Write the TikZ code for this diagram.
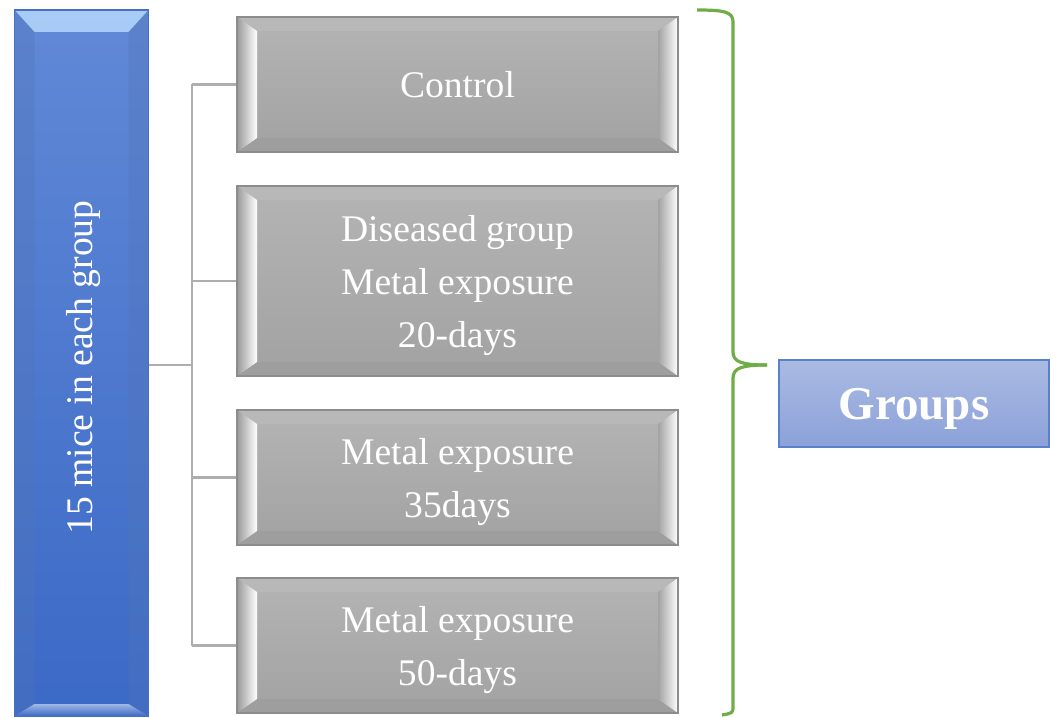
\documentclass[tikz,border=0pt]{standalone}
\usepackage{fontspec}
\setmainfont{Liberation Serif}
\usetikzlibrary{calc}

\definecolor{boxedge}{HTML}{8C8C8C}
\definecolor{boxtop}{HTML}{B4B4B4}
\definecolor{boxbot}{HTML}{A2A2A2}
\definecolor{bevlight}{HTML}{B8B8B8}
\definecolor{bevdark}{HTML}{9E9E9E}
\definecolor{bevside}{HTML}{9A9A9A}
\definecolor{bartop}{HTML}{6189D7}
\definecolor{barbot}{HTML}{3B69C6}
\definecolor{baredge}{HTML}{4670C0}
\definecolor{barhigh}{HTML}{A9CCF7}
\definecolor{grptop}{HTML}{AABAE2}
\definecolor{grpbot}{HTML}{8BA1D9}
\definecolor{grpedge}{HTML}{5A80CC}
\definecolor{linkgray}{HTML}{AEAEAE}
\definecolor{bracegreen}{HTML}{70AD47}

\begin{document}
\begin{tikzpicture}[x=0.5pt,y=-0.5pt,
		boxfont/.style = {font=\fontsize{18.8}{26.5}\selectfont},
		graybox/.style = {draw=boxedge,line width=0.6pt,top color=boxtop,bottom color=boxbot,
			minimum width=220.5pt,inner sep=0pt,text depth=0pt,align=center,text=white,boxfont,
			path picture={
				\fill[bevlight] (path picture bounding box.north west) -- (path picture bounding box.north east)
					-- ([xshift=-10pt,yshift=-7pt]path picture bounding box.north east) -- ([xshift=10pt,yshift=-7pt]path picture bounding box.north west) -- cycle;
				\fill[bevdark] (path picture bounding box.south west) -- (path picture bounding box.south east)
					-- ([xshift=-10pt,yshift=7pt]path picture bounding box.south east) -- ([xshift=10pt,yshift=7pt]path picture bounding box.south west) -- cycle;
				\shade[left color=bevside,middle color=bevside!70!white,right color=white] (path picture bounding box.north west) -- ([xshift=10pt,yshift=-7pt]path picture bounding box.north west)
					-- ([xshift=10pt,yshift=7pt]path picture bounding box.south west) -- (path picture bounding box.south west) -- cycle;
				\shade[left color=boxbot,right color=white] (path picture bounding box.north east) -- ([xshift=-10pt,yshift=-7pt]path picture bounding box.north east)
					-- ([xshift=-10pt,yshift=7pt]path picture bounding box.south east) -- (path picture bounding box.south east) -- cycle;
			}},
		bluebar/.style = {draw=baredge,line width=0.6pt,top color=bartop,bottom color=barbot,
			minimum width=67pt,minimum height=353pt,inner sep=0pt,
			path picture={
				\shade[top color=barhigh,bottom color=bartop!95!white] (path picture bounding box.north west) -- (path picture bounding box.north east)
					-- ([xshift=-10pt,yshift=-11pt]path picture bounding box.north east) -- ([xshift=10pt,yshift=-11pt]path picture bounding box.north west) -- cycle;
				\fill[bartop!85!black,opacity=0.35] (path picture bounding box.north west) -- ([xshift=10pt,yshift=-11pt]path picture bounding box.north west)
					-- ([xshift=10pt,yshift=6pt]path picture bounding box.south west) -- (path picture bounding box.south west) -- cycle;
				\fill[bartop!85!black,opacity=0.35] (path picture bounding box.north east) -- ([xshift=-10pt,yshift=-11pt]path picture bounding box.north east)
					-- ([xshift=-10pt,yshift=6pt]path picture bounding box.south east) -- (path picture bounding box.south east) -- cycle;
				\shade[top color=bartop!60!white,bottom color=barbot] (path picture bounding box.south west) -- (path picture bounding box.south east)
					-- ([xshift=-10pt,yshift=6pt]path picture bounding box.south east) -- ([xshift=10pt,yshift=6pt]path picture bounding box.south west) -- cycle;
			}},
		grpbox/.style = {draw=grpedge,line width=0.6pt,top color=grptop,bottom color=grpbot,
			minimum width=135pt,minimum height=43.5pt,text depth=0pt,text=white,font=\fontsize{23.5}{28}\selectfont\bfseries},
		link/.style = {draw=linkgray,line width=1.2pt},
		grpbrace/.style = {draw=bracegreen,line width=1.6pt,line join=round}
		]
		\useasboundingbox (0,0) rectangle (1059,717);
		%barra blu
		\node[bluebar] (bar) at (81.5,363) {};
		\node[rotate=90,text=white,boxfont] (bartxt) at (84,367.5) {15 mice in each group};
		%gruppi
		\node[graybox,minimum height=67.5pt] (ctrl) at (457.5,84.5) {Control};
		\node[graybox,minimum height=95pt] (dis) at (457.5,281) {Diseased group\\Metal exposure\\20-days};
		\node[graybox,minimum height=67.5pt] (m35) at (457.5,477.5) {Metal exposure\\35days};
		\node[graybox,minimum height=67.5pt] (m50) at (457.5,645.5) {Metal exposure\\50-days};
		\node[grpbox] (grp) at (914,403.5) {Groups};
		%collegamenti
		\coordinate (split) at (192,365);
		\draw[link] (bar.east |- split) -- (split);
		\draw[link] (split |- ctrl.west) -- (split |- m50.west);
		\foreach \g in {ctrl,dis,m35,m50}
			\draw[link] (split |- \g.west) -- (\g.west);
		%parentesi
		\coordinate (tip) at (767,365);
		\draw[grpbrace] (697,10) .. controls (725,10) and (733,12) .. (733,22) -- (733,352)
			.. controls (733,362) and (742,365) .. (tip);
		\draw[grpbrace] (tip) .. controls (742,365) and (733,368) .. (733,378) -- (733,706)
			.. controls (733,713) .. (722,715);
	\end{tikzpicture}
\end{document}
